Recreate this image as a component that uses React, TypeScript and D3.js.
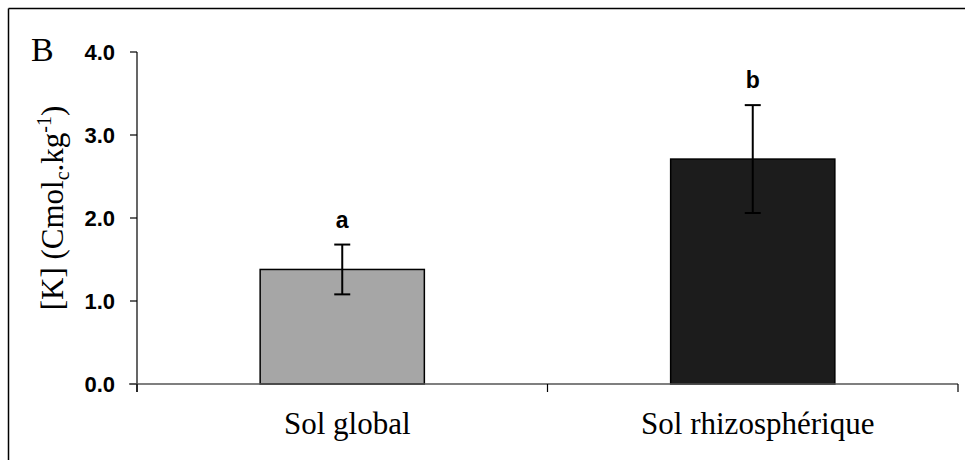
import React from "react";
import * as d3 from "d3";

const categories = ["Sol global", "Sol rhizosphérique"];
const values = [1.38, 2.71];
const errors = [0.3, 0.65];
const letters = ["a", "b"];
const yTicks = [0, 1, 2, 3, 4];
const barColors = ["#a6a6a6", "#1c1c1c"];

export default function App() {
  const W = 965, H = 460;
  const x0 = 137, x1 = 958, yBottom = 384, yTop = 52;
  const x = d3.scaleBand<string>().domain(categories).range([x0, x1]).paddingInner(0).paddingOuter(0);
  const y = d3.scaleLinear().domain([0, 4]).range([yBottom, yTop]);
  const bw = x.bandwidth() * 0.4;
  const serif = "'Liberation Serif', 'Times New Roman', serif";
  const sans = "'Liberation Sans', Arial, sans-serif";
  return (
    <svg width={W} height={H} style={{ position: "absolute", left: 0, top: 0, background: "#fff" }}>
      <rect x={0} y={0} width={W} height={H} fill="#fff" />
      {/* frame */}
      <line x1={8.5} y1={8.5} x2={W} y2={8.5} stroke="#000" strokeWidth={1.5} />
      <line x1={8.5} y1={8.5} x2={8.5} y2={H} stroke="#000" strokeWidth={1.5} />
      <text x={31} y={61} fontFamily={serif} fontSize={34}>B</text>
      {/* y label */}
      <text transform={`translate(63,208) rotate(-90)`} textAnchor="middle" fontFamily={serif} fontSize={31}>
        [K] (Cmol<tspan fontSize={20} dy={6}>c</tspan><tspan dy={-6}>.kg</tspan><tspan fontSize={20} dy={-12}>-1</tspan><tspan dy={12}>)</tspan>
      </text>
      {/* bars */}
      {categories.map((c, i) => {
        const cx = (x(c) as number) + x.bandwidth() / 2;
        return (
          <g key={c}>
            <rect x={cx - bw / 2} y={y(values[i])} width={bw} height={yBottom - y(values[i])} fill={barColors[i]} stroke="#000" strokeWidth={1.5} />
            <line x1={cx} x2={cx} y1={y(values[i] + errors[i])} y2={y(values[i] - errors[i])} stroke="#000" strokeWidth={2} />
            <line x1={cx - 8} x2={cx + 8} y1={y(values[i] + errors[i])} y2={y(values[i] + errors[i])} stroke="#000" strokeWidth={2} />
            <line x1={cx - 8} x2={cx + 8} y1={y(values[i] - errors[i])} y2={y(values[i] - errors[i])} stroke="#000" strokeWidth={2} />
            <text x={cx} y={y(values[i] + errors[i]) - 17} textAnchor="middle" fontFamily={sans} fontWeight="bold" fontSize={23}>{letters[i]}</text>
            <text x={cx + 5} y={434} textAnchor="middle" fontFamily={serif} fontSize={31}>{c}</text>
          </g>
        );
      })}
      {/* y axis */}
      <line x1={x0} x2={x0} y1={yTop} y2={yBottom + 8} stroke="#000" strokeWidth={1.2} />
      {yTicks.map((t) => (
        <g key={t}>
          <line x1={x0 - 7} x2={x0} y1={y(t)} y2={y(t)} stroke="#000" strokeWidth={1.2} />
          <text x={115} y={y(t) + 8} textAnchor="end" fontFamily={sans} fontWeight="bold" fontSize={22}>{t.toFixed(1)}</text>
        </g>
      ))}
      {/* x axis */}
      <line x1={x0 - 8} x2={x1} y1={yBottom} y2={yBottom} stroke="#555" strokeWidth={1.5} />
      {[x0, x0 + x.bandwidth(), x1].map((p, i) => (
        <line key={i} x1={p} x2={p} y1={yBottom} y2={yBottom + 8} stroke="#000" strokeWidth={1.2} />
      ))}
    </svg>
  );
}
